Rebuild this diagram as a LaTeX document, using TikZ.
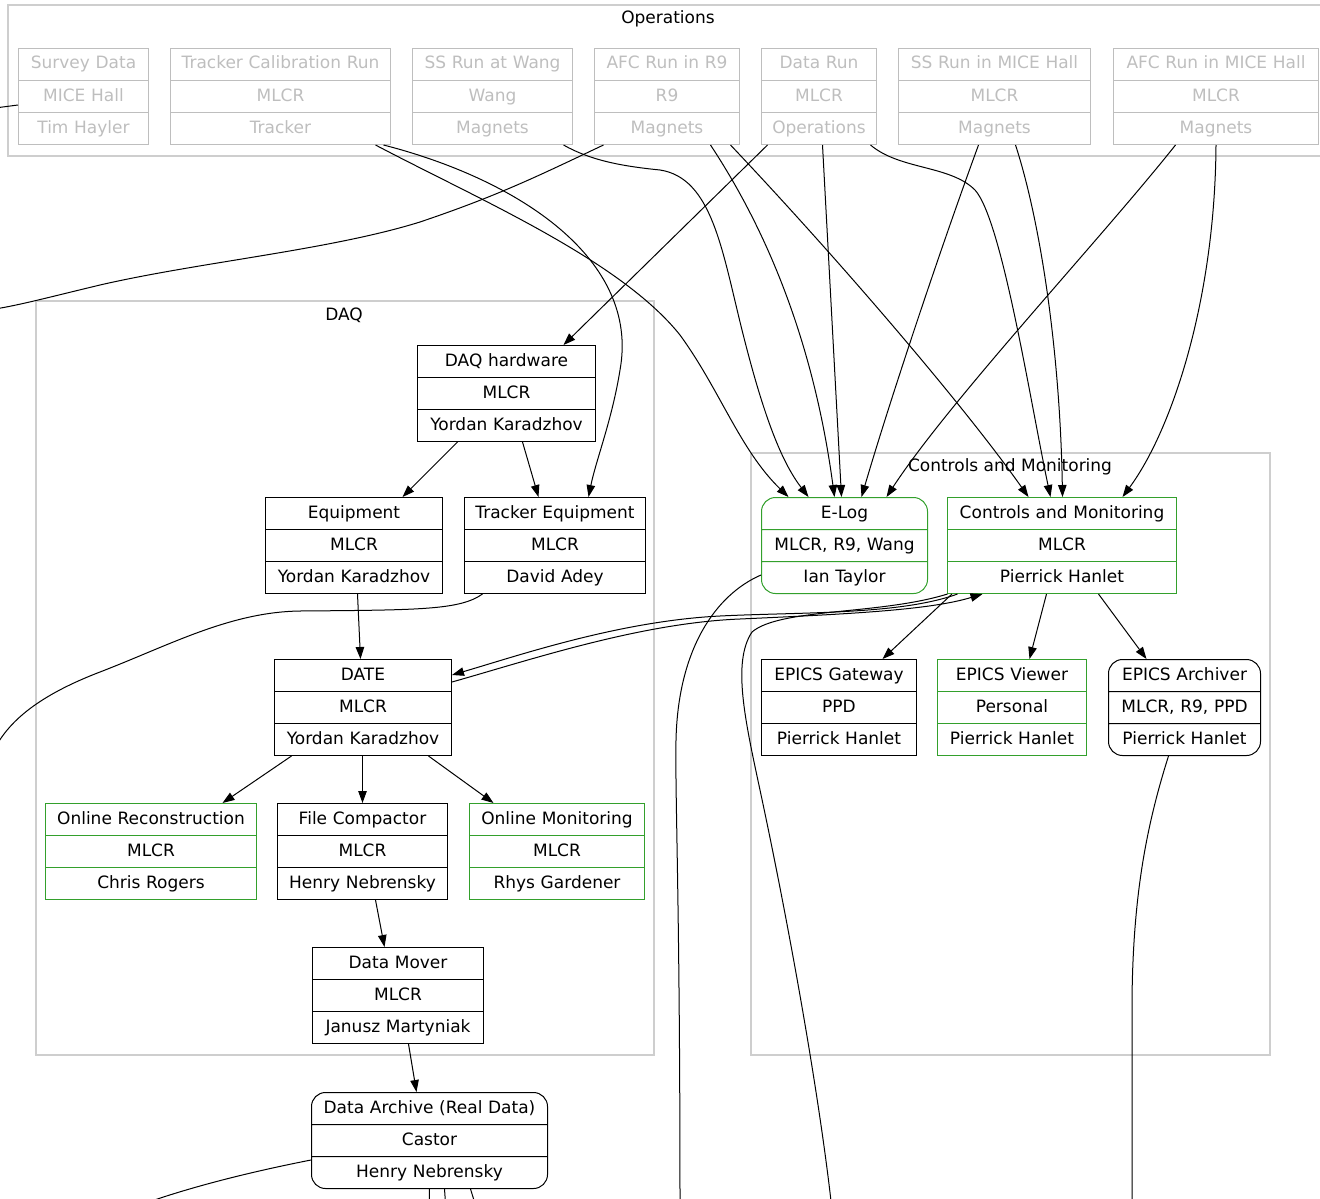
\documentclass[tikz,border=0pt]{standalone}
\usepackage{fontspec}
\setmainfont{DejaVu Sans}
\usetikzlibrary{shapes.multipart,arrows.meta}
\definecolor{cmgreen}{RGB}{51,160,44}
\definecolor{ghost}{RGB}{190,190,190}
\definecolor{clus}{RGB}{206,206,206}
\newcommand{\rs}{\rule[-11pt]{0pt}{31pt}}
\newcommand{\recthree}[3]{\rs #1\nodepart{two}\rs #2\nodepart{three}\rs #3}
\begin{document}
\begin{tikzpicture}[x=1pt,y=-1pt,
  rec/.style={rectangle split, rectangle split parts=3, draw, line width=1pt,
    inner xsep=0pt, inner ysep=0pt, text width=#1, align=center, anchor=north west,
    font=\fontsize{17pt}{20pt}\selectfont},
  ghostrec/.style={draw=ghost, text=ghost},
  greenrec/.style={draw=cmgreen},
  roundrec/.style={rounded corners=14pt},
  cluster/.style={draw=clus, line width=1.3pt},
  lbl/.style={font=\fontsize{17pt}{20pt}\selectfont, inner sep=0pt},
  edge/.style={line width=1pt, -{Triangle[length=12pt,width=8.5pt]}},
  link/.style={line width=1pt},
]
\useasboundingbox (0,0) rectangle (1320,1199);
\clip (0,0) rectangle (1320,1199);

% clusters
\draw[cluster] (8,5) rectangle (1340,156);
\node[lbl] (opslbl) at (668,19) {Operations};
\draw[cluster] (36,301) rectangle (654,1055);
\node[lbl] (daqlbl) at (344,315) {DAQ};
\draw[cluster] (751,453) rectangle (1270,1055);
\node[lbl] (cmlbl) at (1010,467) {Controls and Monitoring};

% operations nodes
\node[rec=130pt, ghostrec] (sd) at (18,48) {\recthree{Survey Data}{MICE Hall}{Tim Hayler}};
\node[rec=220pt, ghostrec] (tcr) at (170,48) {\recthree{Tracker Calibration Run}{MLCR}{Tracker}};
\node[rec=160pt, ghostrec] (ssw) at (412,48) {\recthree{SS Run at Wang}{Wang}{Magnets}};
\node[rec=145pt, ghostrec] (afcr) at (594,48) {\recthree{AFC Run in R9}{R9}{Magnets}};
\node[rec=115pt, ghostrec] (dr) at (761,48) {\recthree{Data Run}{MLCR}{Operations}};
\node[rec=192pt, ghostrec] (ssm) at (898,48) {\recthree{SS Run in MICE Hall}{MLCR}{Magnets}};
\node[rec=205pt, ghostrec] (afcm) at (1113,48) {\recthree{AFC Run in MICE Hall}{MLCR}{Magnets}};

% DAQ nodes
\node[rec=178pt] (daqhw) at (417,345) {\recthree{DAQ hardware}{MLCR}{Yordan Karadzhov}};
\node[rec=177pt] (equip) at (265,497) {\recthree{Equipment}{MLCR}{Yordan Karadzhov}};
\node[rec=181pt] (treq) at (464,497) {\recthree{Tracker Equipment}{MLCR}{David Adey}};
\node[rec=177pt] (date) at (274,659) {\recthree{DATE}{MLCR}{Yordan Karadzhov}};
\node[rec=211pt, greenrec] (orec) at (45,803) {\recthree{Online Reconstruction}{MLCR}{Chris Rogers}};
\node[rec=170pt] (fc) at (277,803) {\recthree{File Compactor}{MLCR}{Henry Nebrensky}};
\node[rec=175pt, greenrec] (om) at (469,803) {\recthree{Online Monitoring}{MLCR}{Rhys Gardener}};
\node[rec=171pt] (dm) at (312,947) {\recthree{Data Mover}{MLCR}{Janusz Martyniak}};
\node[rec=236pt, roundrec] (da) at (311,1092) {\recthree{Data Archive (Real Data)}{Castor}{Henry Nebrensky}};

% Controls and Monitoring nodes
\node[rec=166pt, greenrec, roundrec] (elog) at (761,497) {\recthree{E-Log}{MLCR, R9, Wang}{Ian Taylor}};
\node[rec=229pt, greenrec] (cm) at (947,497) {\recthree{Controls and Monitoring}{MLCR}{Pierrick Hanlet}};
\node[rec=155pt] (epgw) at (761,659) {\recthree{EPICS Gateway}{PPD}{Pierrick Hanlet}};
\node[rec=149pt, greenrec] (epv) at (937,659) {\recthree{EPICS Viewer}{Personal}{Pierrick Hanlet}};
\node[rec=152pt, roundrec] (epa) at (1108,659) {\recthree{EPICS Archiver}{MLCR, R9, PPD}{Pierrick Hanlet}};

% free ends
\coordinate (offsd) at (-5,108);
\coordinate (offafc) at (-5,309);
\coordinate (offtreq) at (-5,748);
\coordinate (offda) at (140,1205);
\coordinate (offda1) at (429,1210);
\coordinate (offda2) at (446,1210);
\coordinate (offda3) at (477,1210);
\coordinate (offelog) at (680,1210);
\coordinate (offcm) at (832,1210);
\coordinate (offepa) at (1132,1210);

% edges from Operations
\draw[link] ([yshift=-8.5pt]sd.west) -- (offsd);
\draw[edge] ([xshift=103pt]tcr.south) .. controls (520,180) and (640,260) .. (620,370) .. controls (612,420) and (596,460) .. ([xshift=33.5pt]treq.north);
\draw[edge] ([xshift=95pt]tcr.south) .. controls (480,200) and (620,260) .. (680,335) .. controls (720,390) and (740,450) .. ([xshift=-56pt]elog.north);
\draw[edge] ([xshift=71pt]ssw.south) .. controls (590,160) and (620,166) .. (660,170) .. controls (712,178) and (722,250) .. (742,330) .. controls (762,410) and (780,460) .. ([xshift=-36pt]elog.north);
\draw[link] ([xshift=-63.5pt]afcr.south) .. controls (540,175) and (500,195) .. (420,222) .. controls (330,250) and (200,262) .. (100,285) .. controls (50,297) and (20,305) .. (offafc);
\draw[edge] ([xshift=43.5pt]afcr.south) .. controls (760,220) and (812,330) .. ([xshift=-10pt]elog.north);
\draw[edge] ([xshift=63.5pt]afcr.south) .. controls (830,250) and (960,400) .. ([xshift=-33.5pt]cm.north);
\draw[edge] ([xshift=-51.5pt]dr.south) -- ([xshift=57pt]daqhw.north);
\draw[edge] ([xshift=3.5pt]dr.south) -- ([xshift=-3pt]elog.north);
\draw[edge] ([xshift=51.5pt]dr.south) .. controls (900,170) and (950,165) .. (975,190) .. controls (1002,220) and (1030,400) .. ([xshift=-11.5pt]cm.north);
\draw[edge] ([xshift=-16pt]ssm.south) .. controls (940,250) and (890,400) .. ([xshift=17pt]elog.north);
\draw[edge] ([xshift=21pt]ssm.south) .. controls (1040,220) and (1060,350) .. ([xshift=0.5pt]cm.north);
\draw[edge] ([xshift=-40.5pt]afcm.south) .. controls (1100,240) and (950,400) .. ([xshift=42pt]elog.north);
\draw[edge] (afcm.south) .. controls (1215,300) and (1172,430) .. ([xshift=60.5pt]cm.north);

% DAQ edges
\draw[edge] ([xshift=-49pt]daqhw.south) -- ([xshift=48.5pt]equip.north);
\draw[edge] ([xshift=16pt]daqhw.south) -- ([xshift=-16.5pt]treq.north);
\draw[edge] ([xshift=3.5pt]equip.south) -- ([xshift=-2.5pt]date.north);
\draw[link] ([xshift=-72.5pt]treq.south) .. controls (460,610) and (420,610) .. (300,611) .. controls (230,612) and (170,645) .. (100,672) .. controls (40,695) and (10,720) .. (offtreq);
\draw[edge] ([xshift=-71.5pt]date.south) -- ([xshift=71.5pt]orec.north);
\draw[edge] ([xshift=-0.5pt]date.south) -- (fc.north);
\draw[edge] ([xshift=65.5pt]date.south) -- ([xshift=-63.5pt]om.north);
\draw[edge] ([xshift=13pt]fc.south) -- ([xshift=-13.5pt]dm.north);
\draw[edge] ([xshift=10.5pt]dm.south) -- ([xshift=-13pt]da.north);
\draw[link] ([yshift=-19.5pt]da.west) .. controls (250,1172) and (190,1187) .. (offda);
\draw[link] (da.south) -- (offda1);
\draw[link] ([xshift=15pt]da.south) -- (offda2);
\draw[link] ([xshift=41pt]da.south) -- (offda3);

% Controls and Monitoring edges
\draw[link] ([yshift=-29.5pt]elog.west) .. controls (715,595) and (678,650) .. (676,740) .. controls (675,800) and (680,900) .. (offelog);
\draw[edge] ([xshift=-104.5pt]cm.south) .. controls (900,615) and (800,612) .. (720,616) .. controls (620,621) and (520,655) .. ([yshift=32.5pt]date.east);
\draw[edge] ([yshift=25.5pt]date.east) .. controls (530,660) and (640,623) .. (740,619) .. controls (850,614) and (930,610) .. ([xshift=-79.5pt]cm.south);
\draw[link] ([xshift=-114.5pt]cm.south) .. controls (880,615) and (780,608) .. (752,632) .. controls (732,662) and (745,720) .. (760,790) .. controls (790,930) and (820,1100) .. (offcm);
\draw[edge] ([xshift=-110pt]cm.south) -- ([xshift=43.5pt]epgw.north);
\draw[edge] ([xshift=-15.5pt]cm.south) -- ([xshift=17.5pt]epv.north);
\draw[edge] ([xshift=36.5pt]cm.south) -- ([xshift=-38pt]epa.north);
\draw[link] ([xshift=-16pt]epa.south) .. controls (1145,830) and (1133,900) .. (1132,1000) -- (offepa);
\end{tikzpicture}
\end{document}
